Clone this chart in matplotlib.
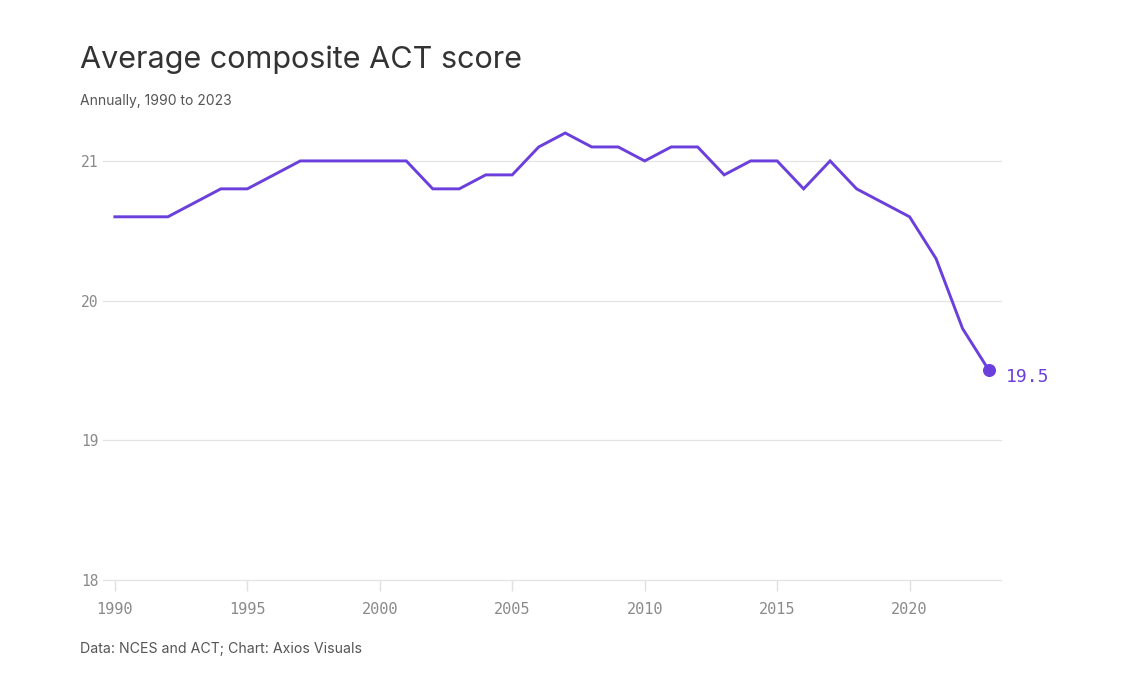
import matplotlib.pyplot as plt

# average composite ACT score
years = list(range(1990, 2024))
scores = [20.6, 20.6, 20.6, 20.7, 20.8, 20.8, 20.9, 21.0, 21.0, 21.0,
          21.0, 21.0, 20.8, 20.8, 20.9, 20.9, 21.1, 21.2, 21.1, 21.1,
          21.0, 21.1, 21.1, 20.9, 21.0, 21.0, 20.8, 21.0, 20.8, 20.7,
          20.6, 20.3, 19.8, 19.5]
y_ticks = [18, 19, 20, 21]
x_ticks = [1990, 1995, 2000, 2005, 2010, 2015, 2020]

purple = '#6a3fdc'
mono = 'DejaVu Sans Mono'
tick_grey = '#8a8a8a'

fig = plt.figure(figsize=(11.29, 6.9), dpi=100)
ax = fig.add_axes([0.0912, 0.1594, 0.7954, 0.658])

ax.plot(years, scores, color=purple, lw=2.1, solid_joinstyle='miter', zorder=3)
ax.scatter([years[-1]], [scores[-1]], s=70, color=purple, zorder=4)
ax.annotate(f'{scores[-1]}', (years[-1], scores[-1]), xytext=(12, -5),
            textcoords='offset points', color=purple, family=mono,
            fontsize=13, va='center', ha='left')

ax.set_xlim(1989.55, 2023.45)
ax.set_ylim(18, 21.25)

ax.set_yticks(y_ticks)
ax.set_xticks(x_ticks)
ax.set_yticklabels([str(t) for t in y_ticks], family=mono, fontsize=10.5, color=tick_grey)
ax.set_xticklabels([str(t) for t in x_ticks], family=mono, fontsize=11, color=tick_grey)
ax.grid(axis='y', color='#e4e4e4', lw=0.9)
for g in ax.get_ygridlines():
    g.set_clip_on(False)
ax.tick_params(axis='y', length=0, pad=3)
ax.tick_params(axis='x', length=8, color='#e0e0e0', width=1, pad=8)
for s in ['top', 'right', 'left', 'bottom']:
    ax.spines[s].set_visible(False)
ax.set_axisbelow(True)

fig.text(80 / 1129, 1 - 60 / 690, 'Average composite ACT score', family='Inter',
         fontsize=22, color='#333333', va='center', ha='left')
fig.text(80 / 1129, 1 - 101 / 690, 'Annually, 1990 to 2023', family='Inter',
         fontsize=10, color='#555555', va='center', ha='left')
fig.text(80 / 1129, 1 - 649 / 690, 'Data: NCES and ACT; Chart: Axios Visuals',
         family='Inter', fontsize=10.2, color='#555555', va='center', ha='left')

fig.savefig('out.png', dpi=100, facecolor='white')
